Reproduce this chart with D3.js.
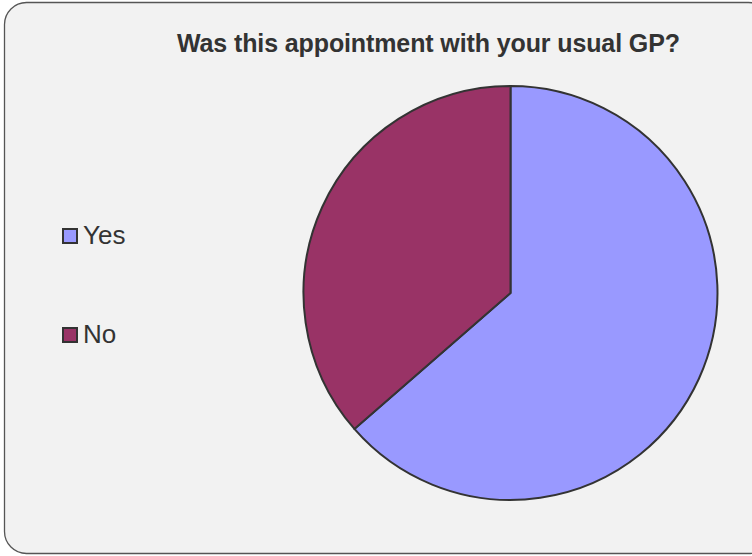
<!DOCTYPE html>
<html><head><meta charset="utf-8">
<script src="https://cdn.jsdelivr.net/npm/d3@7"></script>
<style>html,body{margin:0;padding:0;background:#fff;}svg{display:block;}</style>
</head><body>
<svg id="c" width="752" height="556"></svg>
<script>
const categories = ["Yes", "No"];
const values = [63.6, 36.4];
const colors = ["#9999ff", "#993366"];
const title = "Was this appointment with your usual GP?";

const svg = d3.select("#c");
svg.append("rect").attr("x", 4.5).attr("y", 2.5).attr("width", 766).attr("height", 551)
  .attr("rx", 22).attr("ry", 22).attr("fill", "#f2f2f2").attr("stroke", "#555").attr("stroke-width", 1.3);

svg.append("text").attr("x", 177).attr("y", 52)
  .attr("font-family", "Liberation Sans, Arial, sans-serif").attr("font-size", 25)
  .attr("font-weight", "bold").attr("textLength", 503).attr("lengthAdjust", "spacing")
  .attr("fill", "#333").text(title);

const data = categories.map((c, i) => ({cat: c, val: values[i], color: colors[i]}));
const pie = d3.pie().value(d => d.val).sort(null);
const arc = d3.arc().innerRadius(0).outerRadius(207);
const g = svg.append("g").attr("transform", "translate(510.5,293)");
g.selectAll("path").data(pie(data)).join("path")
  .attr("d", arc).attr("fill", d => d.data.color)
  .attr("stroke", "#333").attr("stroke-width", 2).attr("stroke-linejoin", "round");

const leg = svg.append("g");
const items = leg.selectAll("g").data(data).join("g")
  .attr("transform", (d, i) => `translate(63,${229 + i * 99})`);
items.append("rect").attr("x", 0).attr("y", 0).attr("width", 14).attr("height", 14)
  .attr("fill", d => d.color).attr("stroke", "#333").attr("stroke-width", 2);
items.append("text").attr("x", 20).attr("y", 15)
  .attr("font-family", "Liberation Sans, Arial, sans-serif").attr("font-size", 26)
  .attr("fill", "#333").text(d => d.cat);
</script>
</body></html>
